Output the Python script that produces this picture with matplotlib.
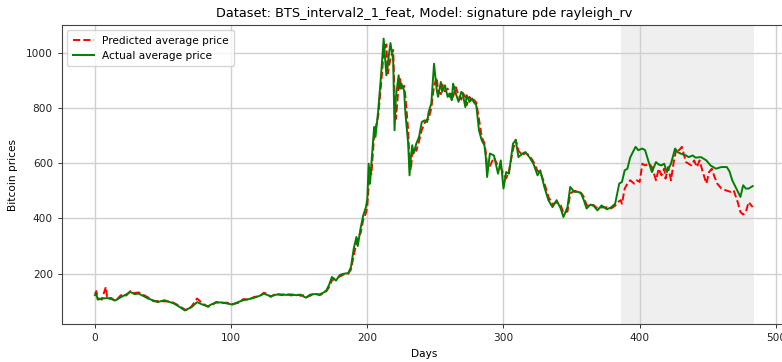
import matplotlib
matplotlib.use("Agg")
import matplotlib.pyplot as plt

# Actual average price, by day
days = [0, 1, 2, 5, 8, 9, 12, 15, 19, 23, 26, 29, 32, 36, 39, 43, 46, 51, 55, 58,
        62, 66, 68, 71, 75, 79, 83, 86, 89, 93, 97, 101, 105, 109, 113, 117, 121, 124, 127, 129,
        133, 137, 141, 144, 148, 151, 153, 155, 158, 161, 165, 168, 170, 172, 174, 177, 180, 183, 186, 188,
        190, 192, 193, 195, 197, 199, 200, 201, 202, 203, 205, 206, 208, 210, 212, 214, 215, 217, 219, 220,
        221, 223, 224, 225, 227, 228, 230, 231, 232, 233, 234, 236, 238, 240, 242, 244, 245, 247, 249, 251,
        252, 254, 255, 257, 259, 261, 262, 263, 265, 267, 269, 270, 272, 273, 275, 277, 278, 280, 282, 284,
        286, 287, 288, 290, 293, 296, 298, 300, 302, 304, 307, 309, 311, 314, 316, 319, 322, 325, 327, 330,
        333, 336, 339, 342, 344, 347, 349, 352, 355, 357, 359, 361, 364, 366, 369, 372, 376, 379, 382, 385,
        387, 389, 391, 393, 395, 397, 399, 402, 404, 407, 409, 412, 414, 416, 418, 420, 423, 426, 428, 430,
        434, 436, 439, 441, 445, 449, 452, 456, 460, 464, 466, 468, 471, 474, 476, 478, 480, 483]
actual = [122, 128, 106, 110, 111, 112, 108, 103, 115, 125, 134, 126, 128, 118, 110, 103, 97, 104, 97, 92,
          80, 67, 72, 79, 97, 88, 82, 90, 95, 96, 92, 88, 97, 104, 108, 113, 120, 128, 122, 118,
          124, 125, 123, 125, 122, 124, 118, 113, 124, 126, 125, 132, 140, 160, 188, 175, 196, 200, 202, 224,
          290, 333, 300, 363, 411, 441, 470, 598, 526, 598, 731, 695, 791, 912, 1051, 918, 960, 1035, 972, 719,
          840, 918, 870, 888, 864, 779, 671, 556, 622, 665, 635, 671, 695, 749, 755, 749, 785, 816, 960, 864,
          840, 894, 858, 882, 840, 852, 828, 888, 852, 822, 858, 852, 803, 846, 822, 834, 822, 810, 719, 683,
          665, 622, 550, 635, 628, 562, 610, 508, 568, 562, 671, 683, 622, 635, 640, 622, 598, 556, 574, 514,
          466, 441, 466, 436, 405, 441, 514, 496, 496, 490, 466, 436, 450, 447, 429, 447, 433, 440, 453, 526,
          532, 574, 580, 620, 640, 659, 647, 653, 647, 598, 568, 604, 595, 592, 598, 568, 598, 653, 640, 635,
          628, 622, 628, 620, 622, 610, 592, 580, 586, 586, 570, 538, 508, 478, 520, 508, 508, 517]

# Predicted average price, by day
pred_days = [0, 1, 2, 5, 8, 9, 12, 15, 19, 23, 26, 29, 32, 36, 39, 43, 46, 51, 55, 58,
             62, 66, 68, 71, 75, 79, 83, 86, 89, 93, 97, 101, 105, 109, 113, 117, 121, 124, 127, 129,
             133, 137, 141, 144, 148, 151, 153, 155, 158, 161, 165, 168, 170, 172, 174, 177, 180, 183, 186, 188,
             190, 192, 193, 195, 197, 199, 200, 201, 202, 203, 205, 206, 208, 210, 212, 214, 215, 217, 219, 220,
             221, 223, 224, 225, 227, 228, 230, 231, 232, 233, 234, 236, 238, 240, 242, 244, 245, 247, 249, 251,
             252, 254, 255, 257, 259, 261, 262, 263, 265, 267, 269, 270, 272, 273, 275, 277, 278, 280, 282, 284,
             286, 287, 288, 290, 293, 296, 298, 300, 302, 304, 307, 309, 311, 314, 316, 319, 322, 325, 327, 330,
             333, 336, 339, 342, 344, 347, 349, 352, 355, 357, 359, 361, 364, 366, 369, 372, 376, 379, 382, 384,
             386, 387, 389, 391, 393, 396, 398, 400, 402, 404, 407, 409, 412, 414, 416, 418, 419, 421, 423, 425,
             427, 429, 431, 434, 438, 440, 442, 444, 446, 449, 451, 453, 455, 457, 460, 463, 467, 469, 472, 474,
             476, 478, 480, 483]
predicted = [126, 137, 112, 106, 152, 110, 112, 100, 122, 121, 137, 130, 132, 122, 114, 100, 101, 100, 99, 94,
             83, 70, 68, 82, 110, 92, 80, 86, 98, 94, 95, 90, 94, 108, 106, 116, 118, 131, 126, 116,
             128, 122, 127, 121, 126, 120, 122, 115, 120, 129, 122, 130, 137, 152, 175, 186, 190, 198, 200, 215,
             265, 310, 335, 345, 395, 420, 445, 520, 590, 560, 700, 725, 770, 880, 1000, 1030, 925, 980, 1010, 850,
             760, 880, 905, 870, 880, 840, 720, 600, 575, 640, 655, 645, 680, 720, 745, 760, 760, 800, 880, 910,
             860, 850, 885, 860, 870, 838, 850, 840, 875, 845, 830, 855, 840, 810, 840, 820, 830, 820, 760, 695,
             672, 640, 590, 590, 620, 590, 585, 560, 545, 570, 650, 685, 645, 628, 638, 628, 605, 572, 568, 528,
             478, 452, 458, 448, 420, 425, 490, 500, 498, 492, 478, 448, 444, 449, 436, 440, 440, 436, 446, 459,
             466, 453, 508, 526, 538, 526, 538, 532, 598, 592, 598, 586, 538, 580, 556, 580, 544, 586, 538, 604,
             653, 647, 659, 604, 592, 610, 586, 610, 574, 526, 568, 580, 550, 526, 508, 502, 496, 502, 459, 423,
             414, 423, 459, 441]

test_window = (386, 484)

fig = plt.figure(figsize=(7.82, 3.62), dpi=100)
ax = fig.add_axes([62 / 782, 38 / 362, 725 / 782, 299 / 362])

ax.axvspan(test_window[0], test_window[1], color="lightgrey", alpha=0.35, lw=0)
ax.plot(pred_days, predicted, color="red", linestyle="--", lw=1.4, label="Predicted average price")
ax.plot(days, actual, color="green", lw=1.4, label="Actual average price")

ax.set_xlim(-24.2, 508.2)
ax.set_ylim(17.8, 1100.2)
ax.set_xticks([0, 100, 200, 300, 400, 500])
ax.set_yticks([200, 400, 600, 800, 1000])
ax.grid(True, color="#d0d0d0", lw=1)
ax.tick_params(labelsize=7.6, length=3, width=0.7, colors="#333333", labelcolor="#222222")
for s in ax.spines.values():
    s.set_color("#444444")

ax.set_title("Dataset: BTS_interval2_1_feat, Model: signature pde rayleigh_rv", fontsize=9.3, pad=6)
ax.set_xlabel("Days", fontsize=7.6, labelpad=4)
ax.set_ylabel("Bitcoin prices", fontsize=7.6, labelpad=6)
ax.legend(loc="upper left", fontsize=7.6, framealpha=0.8, borderpad=0.5, handlelength=2.0)

fig.savefig("out.png", dpi=100)
